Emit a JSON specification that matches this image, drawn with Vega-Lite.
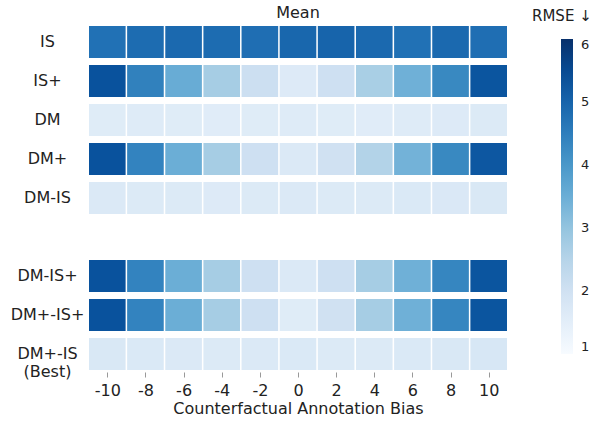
{
  "$schema": "https://vega.github.io/schema/vega-lite/v6.json",
  "autosize": "none",
  "width": 418,
  "height": 344,
  "padding": {"left": 89, "top": 26, "right": 85, "bottom": 51},
  "background": "white",
  "config": {
    "font": "DejaVu Sans",
    "view": {"stroke": null},
    "axis": {"domain": false, "grid": false, "labelColor": "#222", "titleColor": "#222", "labelFont": "DejaVu Sans", "titleFont": "DejaVu Sans"}
  },
  "title": {"text": "Mean", "fontSize": 16, "fontWeight": "normal", "color": "#222", "anchor": "middle", "offset": 6, "dy": 18, "font": "DejaVu Sans"},
  "data": {
    "values": [
      {"method": "IS", "bias": -10, "rmse": 4.75},
      {"method": "IS", "bias": -8, "rmse": 4.85},
      {"method": "IS", "bias": -6, "rmse": 4.9},
      {"method": "IS", "bias": -4, "rmse": 4.85},
      {"method": "IS", "bias": -2, "rmse": 4.8},
      {"method": "IS", "bias": 0, "rmse": 4.95},
      {"method": "IS", "bias": 2, "rmse": 5.0},
      {"method": "IS", "bias": 4, "rmse": 4.9},
      {"method": "IS", "bias": 6, "rmse": 4.75},
      {"method": "IS", "bias": 8, "rmse": 4.9},
      {"method": "IS", "bias": 10, "rmse": 4.8},
      {"method": "IS+", "bias": -10, "rmse": 5.35},
      {"method": "IS+", "bias": -8, "rmse": 4.45},
      {"method": "IS+", "bias": -6, "rmse": 3.55},
      {"method": "IS+", "bias": -4, "rmse": 2.75},
      {"method": "IS+", "bias": -2, "rmse": 2.1},
      {"method": "IS+", "bias": 0, "rmse": 1.65},
      {"method": "IS+", "bias": 2, "rmse": 2.05},
      {"method": "IS+", "bias": 4, "rmse": 2.7},
      {"method": "IS+", "bias": 6, "rmse": 3.45},
      {"method": "IS+", "bias": 8, "rmse": 4.3},
      {"method": "IS+", "bias": 10, "rmse": 5.3},
      {"method": "DM", "bias": -10, "rmse": 1.6},
      {"method": "DM", "bias": -8, "rmse": 1.62},
      {"method": "DM", "bias": -6, "rmse": 1.6},
      {"method": "DM", "bias": -4, "rmse": 1.58},
      {"method": "DM", "bias": -2, "rmse": 1.6},
      {"method": "DM", "bias": 0, "rmse": 1.62},
      {"method": "DM", "bias": 2, "rmse": 1.6},
      {"method": "DM", "bias": 4, "rmse": 1.58},
      {"method": "DM", "bias": 6, "rmse": 1.62},
      {"method": "DM", "bias": 8, "rmse": 1.65},
      {"method": "DM", "bias": 10, "rmse": 1.68},
      {"method": "DM+", "bias": -10, "rmse": 5.35},
      {"method": "DM+", "bias": -8, "rmse": 4.4},
      {"method": "DM+", "bias": -6, "rmse": 3.5},
      {"method": "DM+", "bias": -4, "rmse": 2.75},
      {"method": "DM+", "bias": -2, "rmse": 2.05},
      {"method": "DM+", "bias": 0, "rmse": 1.7},
      {"method": "DM+", "bias": 2, "rmse": 2.0},
      {"method": "DM+", "bias": 4, "rmse": 2.55},
      {"method": "DM+", "bias": 6, "rmse": 3.4},
      {"method": "DM+", "bias": 8, "rmse": 4.3},
      {"method": "DM+", "bias": 10, "rmse": 5.25},
      {"method": "DM-IS", "bias": -10, "rmse": 1.7},
      {"method": "DM-IS", "bias": -8, "rmse": 1.68},
      {"method": "DM-IS", "bias": -6, "rmse": 1.68},
      {"method": "DM-IS", "bias": -4, "rmse": 1.66},
      {"method": "DM-IS", "bias": -2, "rmse": 1.68},
      {"method": "DM-IS", "bias": 0, "rmse": 1.7},
      {"method": "DM-IS", "bias": 2, "rmse": 1.68},
      {"method": "DM-IS", "bias": 4, "rmse": 1.68},
      {"method": "DM-IS", "bias": 6, "rmse": 1.72},
      {"method": "DM-IS", "bias": 8, "rmse": 1.74},
      {"method": "DM-IS", "bias": 10, "rmse": 1.75},
      {"method": "DM-IS+", "bias": -10, "rmse": 5.35},
      {"method": "DM-IS+", "bias": -8, "rmse": 4.4},
      {"method": "DM-IS+", "bias": -6, "rmse": 3.5},
      {"method": "DM-IS+", "bias": -4, "rmse": 2.75},
      {"method": "DM-IS+", "bias": -2, "rmse": 2.05},
      {"method": "DM-IS+", "bias": 0, "rmse": 1.7},
      {"method": "DM-IS+", "bias": 2, "rmse": 2.05},
      {"method": "DM-IS+", "bias": 4, "rmse": 2.75},
      {"method": "DM-IS+", "bias": 6, "rmse": 3.45},
      {"method": "DM-IS+", "bias": 8, "rmse": 4.35},
      {"method": "DM-IS+", "bias": 10, "rmse": 5.3},
      {"method": "DM+-IS+", "bias": -10, "rmse": 5.35},
      {"method": "DM+-IS+", "bias": -8, "rmse": 4.4},
      {"method": "DM+-IS+", "bias": -6, "rmse": 3.5},
      {"method": "DM+-IS+", "bias": -4, "rmse": 2.75},
      {"method": "DM+-IS+", "bias": -2, "rmse": 2.05},
      {"method": "DM+-IS+", "bias": 0, "rmse": 1.6},
      {"method": "DM+-IS+", "bias": 2, "rmse": 2.0},
      {"method": "DM+-IS+", "bias": 4, "rmse": 2.75},
      {"method": "DM+-IS+", "bias": 6, "rmse": 3.45},
      {"method": "DM+-IS+", "bias": 8, "rmse": 4.35},
      {"method": "DM+-IS+", "bias": 10, "rmse": 5.3},
      {"method": "DM+-IS (Best)", "bias": -10, "rmse": 1.75},
      {"method": "DM+-IS (Best)", "bias": -8, "rmse": 1.72},
      {"method": "DM+-IS (Best)", "bias": -6, "rmse": 1.7},
      {"method": "DM+-IS (Best)", "bias": -4, "rmse": 1.68},
      {"method": "DM+-IS (Best)", "bias": -2, "rmse": 1.7},
      {"method": "DM+-IS (Best)", "bias": 0, "rmse": 1.72},
      {"method": "DM+-IS (Best)", "bias": 2, "rmse": 1.68},
      {"method": "DM+-IS (Best)", "bias": 4, "rmse": 1.68},
      {"method": "DM+-IS (Best)", "bias": 6, "rmse": 1.72},
      {"method": "DM+-IS (Best)", "bias": 8, "rmse": 1.75},
      {"method": "DM+-IS (Best)", "bias": 10, "rmse": 1.8}
    ]
  },
  "mark": {"type": "rect"},
  "encoding": {
    "x": {
      "field": "bias",
      "type": "ordinal",
      "scale": {"domain": [-10, -8, -6, -4, -2, 0, 2, 4, 6, 8, 10], "paddingInner": 0.04, "paddingOuter": 0},
      "axis": {"title": "Counterfactual Annotation Bias", "labelAngle": 0, "labelFontSize": 16, "titleFontSize": 16, "titleFontWeight": "normal", "ticks": true, "tickSize": 5, "tickOffset": 0, "offset": 2, "tickColor": "#999", "labelPadding": 5, "titlePadding": 2}
    },
    "y": {
      "field": "method",
      "type": "nominal",
      "scale": {"domain": ["IS", "IS+", "DM", "DM+", "DM-IS", " ", "DM-IS+", "DM+-IS+", "DM+-IS (Best)"], "paddingInner": 0.18, "paddingOuter": 0},
      "axis": {"title": null, "ticks": false, "labelFontSize": 16, "labelAlign": "center", "labelPadding": 42, "labelLineHeight": 18, "labelExpr": "datum.value == 'DM+-IS (Best)' ? ['DM+-IS', '(Best)'] : datum.value"}
    },
    "color": {
      "field": "rmse",
      "type": "quantitative",
      "scale": {
        "type": "linear",
        "domain": [1, 1.625, 2.25, 2.875, 3.5, 4.125, 4.75, 5.375, 6],
        "range": ["#f7fbff", "#deebf7", "#c6dbef", "#9ecae1", "#6baed6", "#4292c6", "#2171b5", "#08519c", "#08306b"],
        "interpolate": "rgb"
      },
      "legend": {
        "title": "RMSE ↓",
        "orient": "none",
        "legendX": 443,
        "legendY": -17,
        "direction": "vertical",
        "gradientLength": 315,
        "gradientThickness": 12,
        "gradientStrokeWidth": 0,
        "values": [1, 2, 3, 4, 5, 6],
        "labelFontSize": 13,
        "labelOffset": 8,
        "labelOverlap": false,
        "labelColor": "#222",
        "titleFontSize": 15,
        "titleFontWeight": "normal",
        "titleColor": "#222",
        "titlePadding": 15,
        "encode": {"title": {"update": {"dx": {"value": -29}}}}
      }
    }
  }
}
